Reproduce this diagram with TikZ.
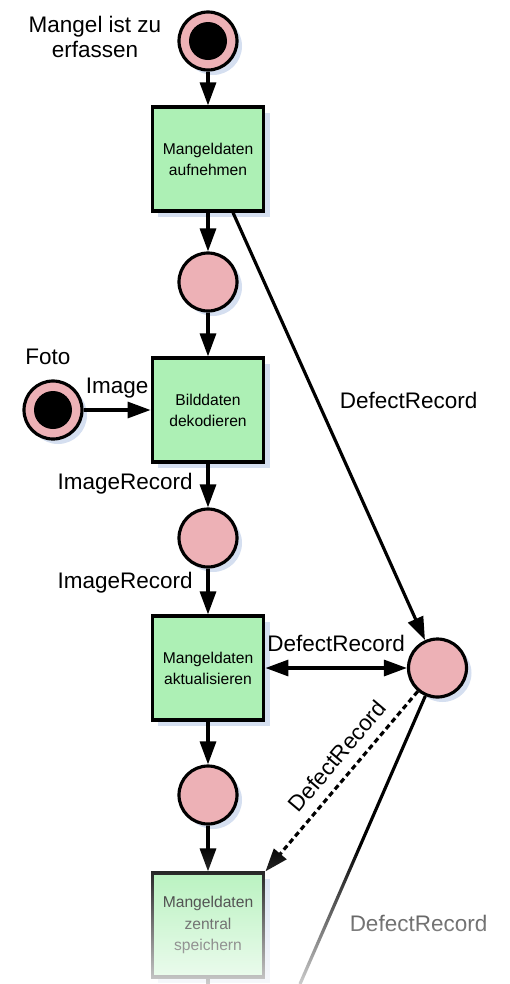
\documentclass[tikz,border=0pt]{standalone}
\usepackage{fontspec}
\setmainfont{Liberation Sans}
\usepackage{xcolor}
\usetikzlibrary{arrows.meta, positioning, shadows, fadings}

\definecolor{placepink}{RGB}{237,177,182}
\definecolor{transgreen}{RGB}{173,240,181}
\definecolor{shadowblue}{RGB}{213,223,240}

\tikzfading[name=fade down, top color=transparent!100, bottom color=transparent!20]

\begin{document}
\begin{tikzpicture}[
		% Define styles
		place/.style={
			circle,
			draw,
			line width=1.8pt,
			fill=placepink,
			minimum size=1.16cm,
			inner sep=0pt,
			drop shadow={shadow xshift=0.1cm, shadow yshift=-0.1cm, fill=shadowblue, opacity=1}
		},
		token/.style={
			circle,
			fill=black,
			minimum size=0.76cm,
			inner sep=0pt
		},
		transition/.style={
			rectangle,
			draw,
			line width=1.8pt,
			fill=transgreen,
			minimum size=2.08cm,
			text width=2cm,
			align=center,
			font=\fontsize{8.9}{12}\selectfont,
			drop shadow={shadow xshift=0.12cm, shadow yshift=-0.12cm, fill=shadowblue, opacity=1}
		},
		lbl/.style={
			font=\fontsize{12.8}{14.7}\selectfont,
			align=center
		},
		% Define arrow style
		arrow/.style={-{Triangle[length=4.6mm, width=3.2mm]}, line width=1.8pt},
		twoway/.style={{Triangle[length=4.6mm, width=3.2mm]}-{Triangle[length=4.6mm, width=3.2mm]}, line width=1.8pt}
		]
		
		\useasboundingbox (0,0) rectangle (10.2,-19.68);
		
		% ----- Places -----
		\node[place] (start) at (4.16, -0.82) {};
		\node[token] (starttok) at (start) {};
		\node[place] (p2) at (4.16, -5.64) {};
		\node[place] (foto) at (1.06, -8.2) {};
		\node[token] (fototok) at (foto) {};
		\node[place] (p3) at (4.16, -10.76) {};
		\node[place] (defects) at (8.75, -13.36) {};
		\node[place] (p4) at (4.16, -15.9) {};
		
		% ----- Transitions -----
		\node[transition] (aufnehmen) at (4.16, -3.18) {Mangeldaten\\aufnehmen};
		\node[transition] (dekodieren) at (4.16, -8.2) {Bilddaten\\dekodieren};
		\node[transition] (aktualisieren) at (4.16, -13.36) {Mangeldaten\\aktualisieren};
		\node[transition] (speichern) at (4.16, -18.5) {Mangeldaten\\zentral\\speichern};
		
		% ----- Place labels -----
		\node[lbl] (startlbl) at (1.9, -0.74) {Mangel ist zu\\erfassen};
		\node[lbl] (fotolbl) at (0.96, -7.14) {Foto};
		
		% ----- Open ends at the bottom -----
		\coordinate (defectsout) at (6.0, -19.68);
		\coordinate (speichernout) at (4.16, -19.68);
		
		% ----- Arrows to connect the nodes -----
		\draw[arrow] (start) -- (aufnehmen);
		\draw[arrow] (aufnehmen) -- (p2);
		\draw[arrow] (p2) -- (dekodieren);
		\draw[arrow] (foto) -- node[lbl, above=0.08cm] (imagelbl) {Image} (dekodieren);
		\draw[arrow] (dekodieren) -- node[lbl, left=0.16cm, pos=0.45] (recordlbla) {ImageRecord} (p3);
		\draw[arrow] (p3) -- node[lbl, left=0.16cm, pos=0.3] (recordlblb) {ImageRecord} (aktualisieren);
		\draw[arrow] (aktualisieren) -- (p4);
		\draw[arrow] (p4) -- (speichern);
		
		\draw[arrow] ([xshift=0.5cm]aufnehmen.south) -- node[lbl, pos=0.44, right=0.3cm] (defectlbla) {DefectRecord} (defects);
		\draw[twoway] (aktualisieren) -- node[lbl, above=0.18cm] (defectlblb) {DefectRecord} (defects);
		\draw[arrow, dash pattern=on 3pt off 2pt] (defects) -- node[lbl, sloped, pos=0.43, above=0.08cm] (defectlblc) {DefectRecord} (speichern.north east);
		\draw[line width=1.8pt] (defects) -- node[lbl, pos=0.79, right=0.32cm] (defectlbld) {DefectRecord} (defectsout);
		\draw[line width=1.8pt] (speichern) -- (speichernout);
		
		% ----- Fade out at the bottom -----
		\fill[white, path fading=fade down] (0, -16.9) rectangle (10.2, -19.68);
		
	\end{tikzpicture}
\end{document}
